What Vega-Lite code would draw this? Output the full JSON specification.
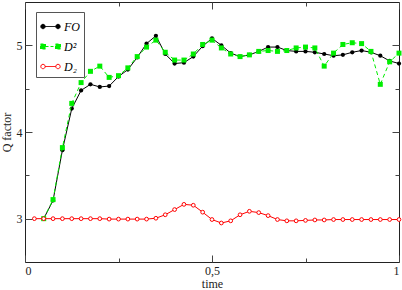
{
  "$schema": "https://vega.github.io/schema/vega-lite/v6.json",
  "width": 374,
  "height": 260,
  "autosize": {"type": "none"},
  "padding": {"left": 25, "top": 2, "right": 3, "bottom": 28},
  "background": "white",
  "config": {
    "view": {"stroke": "#222", "strokeWidth": 1},
    "font": "Liberation Serif",
    "axis": {
      "grid": false,
      "domain": false,
      "labelFont": "Liberation Serif",
      "labelFontSize": 12,
      "labelColor": "#222",
      "titleFont": "Liberation Serif",
      "titleFontSize": 12,
      "titleFontWeight": "normal",
      "titleColor": "#222",
      "tickColor": "#444",
      "tickWidth": 1
    },
    "legend": {
      "orient": "none",
      "legendX": 11,
      "legendY": 10,
      "padding": 4,
      "strokeColor": "#555",
      "fillColor": "white",
      "labelFont": "Liberation Serif",
      "labelFontSize": 12,
      "labelFontStyle": "italic",
      "labelColor": "black",
      "symbolSize": 400,
      "symbolStrokeWidth": 1,
      "rowPadding": 3,
      "labelOffset": 3
    }
  },
  "data": {"values": [
    {"s": "FO", "t": 0.05, "q": 3.00}, {"s": "FO", "t": 0.075, "q": 3.21}, {"s": "FO", "t": 0.1, "q": 3.79}, {"s": "FO", "t": 0.125, "q": 4.27},
    {"s": "FO", "t": 0.15, "q": 4.48}, {"s": "FO", "t": 0.175, "q": 4.55}, {"s": "FO", "t": 0.2, "q": 4.52}, {"s": "FO", "t": 0.225, "q": 4.53},
    {"s": "FO", "t": 0.25, "q": 4.64}, {"s": "FO", "t": 0.275, "q": 4.72}, {"s": "FO", "t": 0.3, "q": 4.86}, {"s": "FO", "t": 0.325, "q": 5.02},
    {"s": "FO", "t": 0.35, "q": 5.11}, {"s": "FO", "t": 0.375, "q": 4.90}, {"s": "FO", "t": 0.4, "q": 4.79}, {"s": "FO", "t": 0.425, "q": 4.80},
    {"s": "FO", "t": 0.45, "q": 4.87}, {"s": "FO", "t": 0.475, "q": 4.99}, {"s": "FO", "t": 0.5, "q": 5.08}, {"s": "FO", "t": 0.525, "q": 5.00},
    {"s": "FO", "t": 0.55, "q": 4.91}, {"s": "FO", "t": 0.575, "q": 4.87}, {"s": "FO", "t": 0.6, "q": 4.89}, {"s": "FO", "t": 0.625, "q": 4.93},
    {"s": "FO", "t": 0.65, "q": 4.98}, {"s": "FO", "t": 0.675, "q": 4.98}, {"s": "FO", "t": 0.7, "q": 4.94}, {"s": "FO", "t": 0.725, "q": 4.93},
    {"s": "FO", "t": 0.75, "q": 4.93}, {"s": "FO", "t": 0.775, "q": 4.92}, {"s": "FO", "t": 0.8, "q": 4.90}, {"s": "FO", "t": 0.825, "q": 4.88},
    {"s": "FO", "t": 0.85, "q": 4.89}, {"s": "FO", "t": 0.875, "q": 4.92}, {"s": "FO", "t": 0.9, "q": 4.94}, {"s": "FO", "t": 0.925, "q": 4.92},
    {"s": "FO", "t": 0.95, "q": 4.88}, {"s": "FO", "t": 0.975, "q": 4.82}, {"s": "FO", "t": 1.0, "q": 4.79},
    {"s": "D²", "t": 0.05, "q": 3.00}, {"s": "D²", "t": 0.075, "q": 3.22}, {"s": "D²", "t": 0.1, "q": 3.82}, {"s": "D²", "t": 0.125, "q": 4.33},
    {"s": "D²", "t": 0.15, "q": 4.57}, {"s": "D²", "t": 0.175, "q": 4.70}, {"s": "D²", "t": 0.2, "q": 4.76}, {"s": "D²", "t": 0.225, "q": 4.63},
    {"s": "D²", "t": 0.25, "q": 4.65}, {"s": "D²", "t": 0.275, "q": 4.74}, {"s": "D²", "t": 0.3, "q": 4.87}, {"s": "D²", "t": 0.325, "q": 4.98},
    {"s": "D²", "t": 0.35, "q": 5.06}, {"s": "D²", "t": 0.375, "q": 4.92}, {"s": "D²", "t": 0.4, "q": 4.83}, {"s": "D²", "t": 0.425, "q": 4.83},
    {"s": "D²", "t": 0.45, "q": 4.90}, {"s": "D²", "t": 0.475, "q": 5.01}, {"s": "D²", "t": 0.5, "q": 5.06}, {"s": "D²", "t": 0.525, "q": 4.97},
    {"s": "D²", "t": 0.55, "q": 4.90}, {"s": "D²", "t": 0.575, "q": 4.87}, {"s": "D²", "t": 0.6, "q": 4.89}, {"s": "D²", "t": 0.625, "q": 4.93},
    {"s": "D²", "t": 0.65, "q": 4.94}, {"s": "D²", "t": 0.675, "q": 4.93}, {"s": "D²", "t": 0.7, "q": 4.94}, {"s": "D²", "t": 0.725, "q": 4.97},
    {"s": "D²", "t": 0.75, "q": 4.98}, {"s": "D²", "t": 0.775, "q": 4.97}, {"s": "D²", "t": 0.8, "q": 4.76}, {"s": "D²", "t": 0.825, "q": 4.91},
    {"s": "D²", "t": 0.85, "q": 5.01}, {"s": "D²", "t": 0.875, "q": 5.03}, {"s": "D²", "t": 0.9, "q": 5.02}, {"s": "D²", "t": 0.925, "q": 4.93},
    {"s": "D²", "t": 0.95, "q": 4.55}, {"s": "D²", "t": 0.975, "q": 4.81}, {"s": "D²", "t": 1.0, "q": 4.91},
    {"s": "D₂", "t": 0.025, "q": 3.00}, {"s": "D₂", "t": 0.05, "q": 3.00}, {"s": "D₂", "t": 0.075, "q": 3.00}, {"s": "D₂", "t": 0.1, "q": 3.00},
    {"s": "D₂", "t": 0.125, "q": 3.00}, {"s": "D₂", "t": 0.15, "q": 3.00}, {"s": "D₂", "t": 0.175, "q": 3.00}, {"s": "D₂", "t": 0.2, "q": 3.00},
    {"s": "D₂", "t": 0.225, "q": 2.995}, {"s": "D₂", "t": 0.25, "q": 2.995}, {"s": "D₂", "t": 0.275, "q": 2.995}, {"s": "D₂", "t": 0.3, "q": 2.995},
    {"s": "D₂", "t": 0.325, "q": 2.995}, {"s": "D₂", "t": 0.35, "q": 3.005}, {"s": "D₂", "t": 0.375, "q": 3.045}, {"s": "D₂", "t": 0.4, "q": 3.105},
    {"s": "D₂", "t": 0.425, "q": 3.165}, {"s": "D₂", "t": 0.45, "q": 3.155}, {"s": "D₂", "t": 0.475, "q": 3.075}, {"s": "D₂", "t": 0.5, "q": 2.99},
    {"s": "D₂", "t": 0.525, "q": 2.95}, {"s": "D₂", "t": 0.55, "q": 2.975}, {"s": "D₂", "t": 0.575, "q": 3.045}, {"s": "D₂", "t": 0.6, "q": 3.085},
    {"s": "D₂", "t": 0.625, "q": 3.07}, {"s": "D₂", "t": 0.65, "q": 3.035}, {"s": "D₂", "t": 0.675, "q": 2.99}, {"s": "D₂", "t": 0.7, "q": 2.975},
    {"s": "D₂", "t": 0.725, "q": 2.975}, {"s": "D₂", "t": 0.75, "q": 2.98}, {"s": "D₂", "t": 0.775, "q": 2.985}, {"s": "D₂", "t": 0.8, "q": 2.985},
    {"s": "D₂", "t": 0.825, "q": 2.99}, {"s": "D₂", "t": 0.85, "q": 2.99}, {"s": "D₂", "t": 0.875, "q": 2.99}, {"s": "D₂", "t": 0.9, "q": 2.99},
    {"s": "D₂", "t": 0.925, "q": 2.99}, {"s": "D₂", "t": 0.95, "q": 2.99}, {"s": "D₂", "t": 0.975, "q": 2.99}, {"s": "D₂", "t": 1.0, "q": 2.99}
  ]},
  "layer": [
    {
      "transform": [{"filter": "datum.s === 'FO'"}],
      "mark": {"type": "line", "color": "black", "strokeWidth": 1},
      "encoding": {
        "x": {"field": "t", "type": "quantitative", "scale": {"domain": [0, 1], "nice": false, "zero": false},
              "axis": {"orient": "bottom", "values": [0, 0.5, 1], "tickSize": -7, "labelPadding": 10, "labelExpr": "datum.value == 0.5 ? '0,5' : '' + datum.value", "title": "time", "titlePadding": 2}},
        "y": {"field": "q", "type": "quantitative", "scale": {"domain": [2.5, 5.5], "nice": false, "zero": false},
              "axis": {"orient": "left", "values": [3, 4, 5], "tickSize": -7, "labelPadding": 10, "labelExpr": "'' + datum.value", "title": "Q factor", "titlePadding": 3}}
      }
    },
    {
      "transform": [{"filter": "datum.s === 'FO'"}],
      "mark": {"type": "point", "shape": "circle", "filled": true, "color": "black", "opacity": 1, "size": 18},
      "encoding": {
        "x": {"field": "t", "type": "quantitative", "axis": {"orient": "bottom", "values": [0.25, 0.75], "tickSize": -4, "labels": false, "title": null}},
        "y": {"field": "q", "type": "quantitative", "axis": {"orient": "left", "values": [3.5, 4.5], "tickSize": -4, "labels": false, "title": null}}
      }
    },
    {
      "transform": [{"filter": "datum.s === 'D²'"}],
      "mark": {"type": "line", "color": "#00ee00", "strokeWidth": 1, "strokeDash": [4, 3]},
      "encoding": {
        "x": {"field": "t", "type": "quantitative", "axis": {"orient": "top", "values": [0, 0.5, 1], "tickSize": -7, "labels": false, "title": null}},
        "y": {"field": "q", "type": "quantitative", "axis": {"orient": "right", "values": [3, 4, 5], "tickSize": -7, "labels": false, "title": null}}
      }
    },
    {
      "transform": [{"filter": "datum.s === 'D²'"}],
      "mark": {"type": "point", "shape": "square", "filled": true, "color": "#00ee00", "opacity": 1, "size": 25},
      "encoding": {
        "x": {"field": "t", "type": "quantitative", "axis": {"orient": "top", "values": [0.25, 0.75], "tickSize": -4, "labels": false, "title": null}},
        "y": {"field": "q", "type": "quantitative", "axis": {"orient": "right", "values": [3.5, 4.5], "tickSize": -4, "labels": false, "title": null}}
      }
    },
    {
      "transform": [{"filter": "datum.s === 'D₂'"}],
      "mark": {"type": "line", "color": "red", "strokeWidth": 1},
      "encoding": {
        "x": {"field": "t", "type": "quantitative", "axis": null},
        "y": {"field": "q", "type": "quantitative", "axis": null}
      }
    },
    {
      "transform": [{"filter": "datum.s === 'D₂'"}],
      "mark": {"type": "point", "shape": "circle", "filled": false, "stroke": "red", "fill": "white", "fillOpacity": 1, "opacity": 1, "strokeWidth": 1, "size": 14},
      "encoding": {
        "x": {"field": "t", "type": "quantitative", "axis": null},
        "y": {"field": "q", "type": "quantitative", "axis": null}
      }
    },
    {
      "transform": [{"filter": "false"}],
      "mark": {"type": "point", "filled": true, "opacity": 1, "strokeWidth": 1},
      "encoding": {
        "shape": {"field": "s", "type": "nominal", "title": null,
                  "scale": {"domain": ["FO", "D²", "D₂"], "range": [
                    "M-0.53,0H0.53M-0.97,0a0.22,0.22 0 1,0 0.44,0a0.22,0.22 0 1,0 -0.44,0M0.53,0a0.22,0.22 0 1,0 0.44,0a0.22,0.22 0 1,0 -0.44,0",
                    "M-0.5,0H0.5M-1,-0.25h0.5v0.5h-0.5zM0.5,-0.25h0.5v0.5h-0.5z",
                    "M-0.53,0H0.53M-0.97,0a0.22,0.22 0 1,0 0.44,0a0.22,0.22 0 1,0 -0.44,0M0.53,0a0.22,0.22 0 1,0 0.44,0a0.22,0.22 0 1,0 -0.44,0"]}},
        "fill": {"field": "s", "type": "nominal", "title": null, "scale": {"domain": ["FO", "D²", "D₂"], "range": ["black", "#00ee00", "white"]}},
        "stroke": {"field": "s", "type": "nominal", "title": null, "scale": {"domain": ["FO", "D²", "D₂"], "range": ["black", "#00ee00", "red"]}},
        "strokeDash": {"field": "s", "type": "nominal", "title": null, "scale": {"domain": ["FO", "D²", "D₂"], "range": [[1, 0], [3, 2], [1, 0]]}}
      }
    }
  ],
  "resolve": {"axis": {"x": "independent", "y": "independent"}}
}
